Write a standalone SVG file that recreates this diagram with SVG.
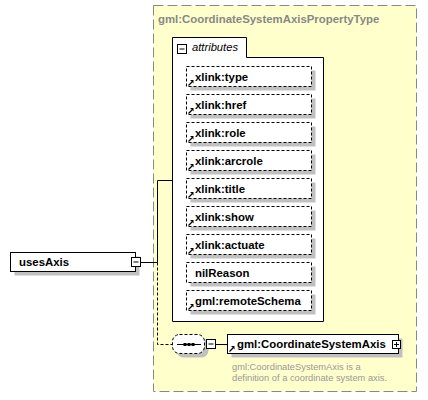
<svg xmlns="http://www.w3.org/2000/svg" xmlns:xlink="http://www.w3.org/1999/xlink" width="428" height="400" viewBox="0 0 428 400">
<style>
.bold{font-family:"Liberation Sans",Arial,sans-serif;font-weight:bold;font-size:11.4px;fill:#000}
.title{font-family:"Liberation Sans",Arial,sans-serif;font-weight:bold;font-size:11.4px;fill:#888}
.ital{font-family:"Liberation Sans",Arial,sans-serif;font-style:italic;font-size:11.2px;fill:#000}
.desc{font-family:"Liberation Sans",Arial,sans-serif;font-size:9.3px;fill:#999}
.shadow{fill:#c0c0c0}
.box{fill:#fff;stroke:#000;stroke-width:1}
.dbox{fill:#fff;stroke:#000;stroke-width:1;stroke-dasharray:3,2}
.conn{fill:none;stroke:#000;stroke-width:1}
.dconn{fill:none;stroke:#000;stroke-width:1;stroke-dasharray:3,2}
</style>
<defs>
<g id="refarrow">
<path d="M0.5,5.5 L4,2" stroke="#000" stroke-width="1.2" fill="none"/>
<path d="M2,0 H5.5 V3.5 Z" fill="#000"/>
</g>
<g id="minus">
<rect x="0" y="0" width="9" height="9" fill="#fff" stroke="#000" stroke-width="1"/>
<line x1="2" y1="4.5" x2="7" y2="4.5" stroke="#000" stroke-width="1"/>
</g>
<g id="plus">
<rect x="0" y="0" width="8" height="8" fill="#fff" stroke="#000" stroke-width="1"/>
<line x1="1.5" y1="4" x2="6.5" y2="4" stroke="#000" stroke-width="1"/>
<line x1="4" y1="1.5" x2="4" y2="6.5" stroke="#000" stroke-width="1"/>
</g>
</defs>

<g id="type-box">
<rect x="153.5" y="5.5" width="263" height="386" fill="#ffffcc" stroke="#888" stroke-width="1" stroke-dasharray="10,4"/>
<text class="title" x="158" y="22.5">gml:CoordinateSystemAxisPropertyType</text>
</g>

<g id="attributes">
<path class="box" d="M172.5,321.5 V37.5 H246.5 V57.5 H323.5 V321.5 Z"/>
<use xlink:href="#minus" x="177.5" y="44.5"/>
<text class="ital" x="192" y="51">attributes</text>
</g>

<g id="attr-xlink-type">
<rect class="shadow" x="190.5" y="70.5" width="125" height="20"/>
<rect class="dbox" x="186.5" y="66.5" width="125" height="20"/>
<use xlink:href="#refarrow" x="188" y="80"/>
<text class="bold" x="195" y="80.5">xlink:type</text>
</g>
<g id="attr-xlink-href">
<rect class="shadow" x="190.5" y="98.5" width="125" height="20"/>
<rect class="dbox" x="186.5" y="94.5" width="125" height="20"/>
<use xlink:href="#refarrow" x="188" y="108"/>
<text class="bold" x="195" y="108.5">xlink:href</text>
</g>
<g id="attr-xlink-role">
<rect class="shadow" x="190.5" y="126.5" width="125" height="20"/>
<rect class="dbox" x="186.5" y="122.5" width="125" height="20"/>
<use xlink:href="#refarrow" x="188" y="136"/>
<text class="bold" x="195" y="136.5">xlink:role</text>
</g>
<g id="attr-xlink-arcrole">
<rect class="shadow" x="190.5" y="154.5" width="125" height="20"/>
<rect class="dbox" x="186.5" y="150.5" width="125" height="20"/>
<use xlink:href="#refarrow" x="188" y="164"/>
<text class="bold" x="195" y="164.5">xlink:arcrole</text>
</g>
<g id="attr-xlink-title">
<rect class="shadow" x="190.5" y="182.5" width="125" height="20"/>
<rect class="dbox" x="186.5" y="178.5" width="125" height="20"/>
<use xlink:href="#refarrow" x="188" y="192"/>
<text class="bold" x="195" y="192.5">xlink:title</text>
</g>
<g id="attr-xlink-show">
<rect class="shadow" x="190.5" y="210.5" width="125" height="20"/>
<rect class="dbox" x="186.5" y="206.5" width="125" height="20"/>
<use xlink:href="#refarrow" x="188" y="220"/>
<text class="bold" x="195" y="220.5">xlink:show</text>
</g>
<g id="attr-xlink-actuate">
<rect class="shadow" x="190.5" y="238.5" width="125" height="20"/>
<rect class="dbox" x="186.5" y="234.5" width="125" height="20"/>
<use xlink:href="#refarrow" x="188" y="248"/>
<text class="bold" x="195" y="248.5">xlink:actuate</text>
</g>
<g id="attr-nilReason">
<rect class="shadow" x="190.5" y="266.5" width="125" height="20"/>
<rect class="dbox" x="186.5" y="262.5" width="125" height="20"/>
<text class="bold" x="195" y="276.5">nilReason</text>
</g>
<g id="attr-gml-remoteSchema">
<rect class="shadow" x="190.5" y="294.5" width="125" height="20"/>
<rect class="dbox" x="186.5" y="290.5" width="125" height="20"/>
<use xlink:href="#refarrow" x="188" y="304"/>
<text class="bold" x="195" y="304.5">gml:remoteSchema</text>
</g>

<g id="connectors">
<path class="conn" d="M140.5,262.5 H157.5 V180.5 H172.5"/>
<path class="dconn" d="M157.5,262.5 V344.5 H172.5"/>
<path class="conn" d="M215.5,344.5 H227.5"/>
</g>

<g id="usesAxis">
<rect class="shadow" x="14.5" y="256.5" width="125" height="19"/>
<rect class="box" x="10.5" y="252.5" width="125" height="19"/>
<text class="bold" x="19" y="266">usesAxis</text>
<use xlink:href="#minus" x="131.5" y="257.5"/>
</g>

<g id="sequence">
<rect class="shadow" x="176.5" y="338.5" width="32" height="19" rx="7"/>
<rect class="dbox" x="172.5" y="334.5" width="32" height="19" rx="7"/>
<line x1="177" y1="344.5" x2="201" y2="344.5" stroke="#000" stroke-width="1"/>
<rect x="183.5" y="343" width="3" height="3" fill="#000"/>
<rect x="187.5" y="343" width="3" height="3" fill="#000"/>
<rect x="191.5" y="343" width="3" height="3" fill="#000"/>
<use xlink:href="#minus" x="206.5" y="339.5"/>
</g>

<g id="gml-CoordinateSystemAxis">
<rect class="shadow" x="231.5" y="338.5" width="171" height="19"/>
<rect class="box" x="227.5" y="334.5" width="171" height="19"/>
<use xlink:href="#refarrow" x="229" y="346"/>
<text class="bold" x="237" y="348">gml:CoordinateSystemAxis</text>
<use xlink:href="#plus" x="392.5" y="340.5"/>
<text class="desc" x="232" y="370">gml:CoordinateSystemAxis is a</text>
<text class="desc" x="232" y="380.7">definition of a coordinate system axis.</text>
</g>
</svg>
